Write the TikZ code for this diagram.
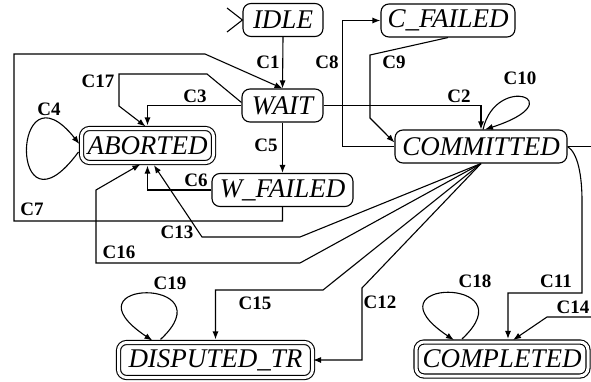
\documentclass[tikz,border=0pt]{standalone}
\usepackage{fontspec}
\setmainfont{Liberation Serif}
\usetikzlibrary{arrows.meta}

\begin{document}
\begin{tikzpicture}[x=1pt, y=1pt, -{Latex[length=8pt,width=6pt]}, line width=1.1pt,
      state/.style={draw, rounded corners=8pt, inner sep=0pt, minimum height=33pt,
        font=\fontsize{27}{29}\selectfont\itshape},
      final/.style={state, double, double distance=3pt, minimum height=34pt},
      fin/.style={shorten >=2.5pt},
      lbl/.style={inner sep=0pt, font=\fontsize{19}{21}\selectfont\bfseries}]
    \useasboundingbox (0,0) rectangle (591,381);
    \clip (0,0) rectangle (591,381);
    \node (IDLE) [state, minimum width=80pt] at (283,361) {IDLE};
    \node (CFAILED) [state, minimum width=134pt] at (448,360.5) {C\_FAILED};
    \node (WAIT) [state, minimum width=81pt] at (282.5,275.5) {WAIT};
    \node (ABORTED) [final, minimum width=132pt] at (147.5,235.5) {ABORTED};
    \node (COMMITTED) [state, minimum width=172pt] at (481,234.5) {COMMITTED};
    \node (WFAILED) [state, minimum width=141pt] at (282.5,191) {W\_FAILED};
    \node (DISPUTED) [final, minimum width=194pt, minimum height=35pt] at (215.5,21) {DISPUTED\_TR};
    \node (COMPLETED) [final, minimum width=172pt] at (502,22) {COMPLETED};
    \coordinate (init1) at (227,373);
    \coordinate (init2) at (227,349);
    \coordinate (offR) at (600,234.5);
    \coordinate (inC14) at (600,64);
    % initial state
    \draw[-] (init1) -- (IDLE.west) -- (init2);
    \draw (IDLE.south) -- (WAIT.north) node[lbl] (c1) at (268,319) {C1};
    \draw (WAIT.east) -| (COMMITTED.north) node[lbl] (c2) at (459,285) {C2};
    \draw[fin] (WAIT.west) -| (ABORTED.north) node[lbl] (c3) at (195,285) {C3};
    \draw[fin] ([xshift=-2.5pt,yshift=-6.5pt]ABORTED.west) .. controls +(-70,-95) and +(-70,88) .. ([yshift=-0.5pt]ABORTED.west)
      node[lbl] (c4) at (49,272) {C4};
    \draw (WAIT.south) -- (WFAILED.north) node[lbl] (c5) at (266,236) {C5};
    \draw[fin] (WFAILED.west) -| (ABORTED.south) node[lbl] (c6) at (196,201) {C6};
    \draw (WFAILED.south) |- (14,160) |- (205,327) -- (WAIT.north) node[lbl] (c7) at (32,172) {C7};
    \draw (COMMITTED.west) -- ++(-52,0) |- (CFAILED.west) node[lbl] (c8) at (327,319) {C8};
    \draw (CFAILED.south) -- (370,326) -- (370,263) -- ([yshift=4pt]COMMITTED.west) node[lbl] (c9) at (394,319) {C9};
    \draw ([xshift=2pt]COMMITTED.north) .. controls +(13,57) and +(90,29) .. ([xshift=4pt]COMMITTED.north)
      node[lbl] (c10) at (520,303) {C10};
    \draw[fin] (COMMITTED.east) .. controls (578,228) and (582,205) .. (582,180) -- (582,88) -| ([xshift=6pt]COMPLETED.north)
      node[lbl] (c11) at (556,100) {C11};
    \draw (COMMITTED.south) -- (362,93) |- (DISPUTED.east) node[lbl] (c12) at (380,79) {C12};
    \draw[fin] (COMMITTED.south) -- (300,144) -- (202,144) -- ([xshift=5pt]ABORTED.south) node[lbl] (c13) at (177,149) {C13};
    \draw[fin] (inC14) -- (547,64) -- ([xshift=9pt]COMPLETED.north) node[lbl] (c14) at (573,74) {C14};
    \draw[fin] (COMMITTED.south) -- (323,91) -| (DISPUTED.north) node[lbl] (c15) at (255,78) {C15};
    \draw[fin] (COMMITTED.south) -- (300,118) -| (96,191) -- ([xshift=-5pt]ABORTED.south) node[lbl] (c16) at (119,129) {C16};
    \draw[fin] ([yshift=3pt]WAIT.west) -- (207,307) -| (119,275) -- (ABORTED.north) node[lbl] (c17) at (98,300) {C17};
    \draw[fin] ([xshift=-40pt,yshift=2.5pt]COMPLETED.north) .. controls +(68,63) and +(-94,63) .. ([xshift=-46pt]COMPLETED.north)
      node[lbl] (c18) at (475,100) {C18};
    \draw[fin] ([xshift=-55pt,yshift=2.5pt]DISPUTED.north) .. controls +(68,63) and +(-94,63) .. ([xshift=-61pt]DISPUTED.north)
      node[lbl] (c19) at (170,98) {C19};
    \draw (COMMITTED.east) -- (offR);
\end{tikzpicture}
\end{document}
